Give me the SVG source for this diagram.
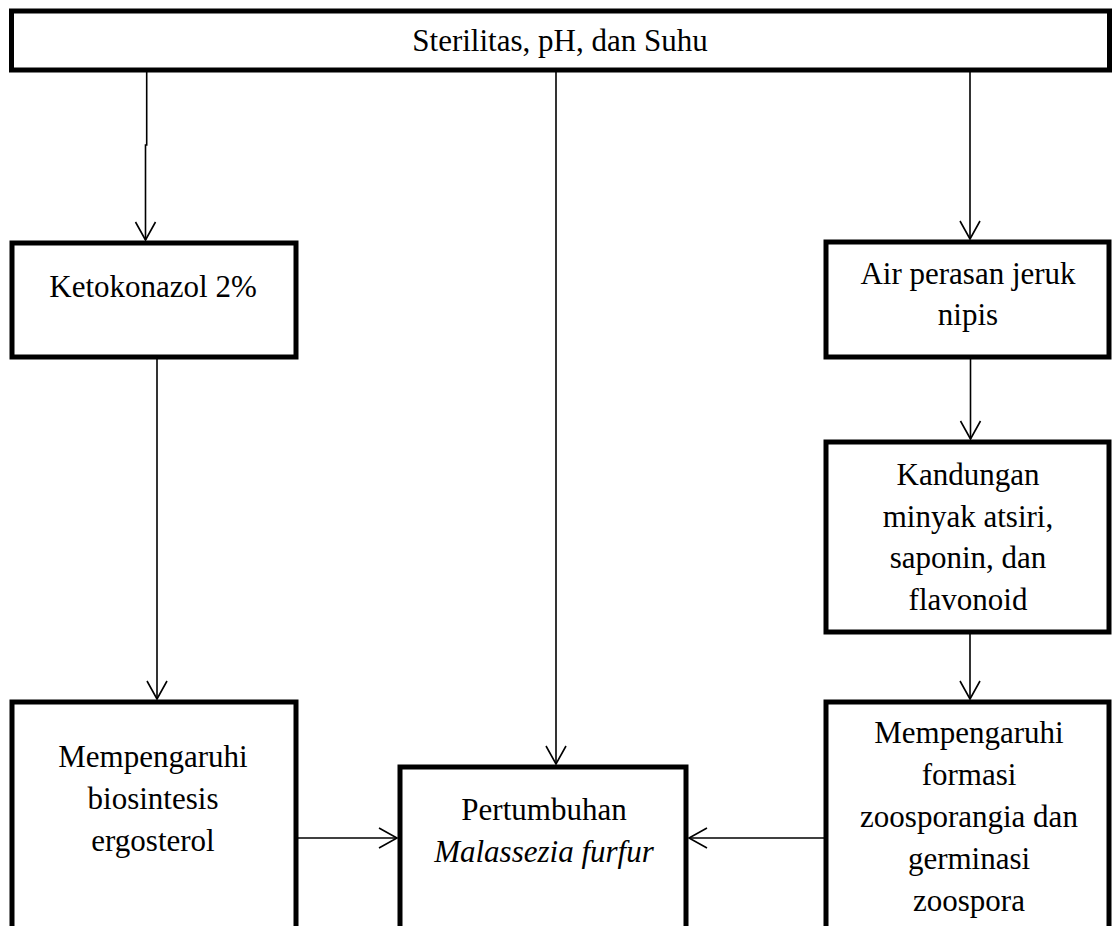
<svg xmlns="http://www.w3.org/2000/svg" width="1112" height="926" viewBox="0 0 1112 926">
<style>
.box{fill:#fff;stroke:#000;stroke-width:5}
.t{font-family:"Liberation Serif","Times New Roman",serif;font-size:31px;fill:#000;text-anchor:middle}
.c{fill:none;stroke:#000;stroke-width:1.6}
</style>
<defs>
<marker id="ah" markerUnits="userSpaceOnUse" markerWidth="24" markerHeight="24" viewBox="-20 -12 24 24" refX="0" refY="0" orient="auto">
<path d="M-18,-10 L0,0 L-18,10" fill="none" stroke="#000" stroke-width="1.6"/>
</marker>
</defs>
<rect width="1112" height="926" fill="#fff"/>
<g id="connectors">
<path class="c" d="M146.7,72 V145 H145.5 V240" marker-end="url(#ah)"/>
<path class="c" d="M556,72 V764" marker-end="url(#ah)"/>
<path class="c" d="M970,72 V239" marker-end="url(#ah)"/>
<path class="c" d="M157,359 V699" marker-end="url(#ah)"/>
<path class="c" d="M970.5,359 V439" marker-end="url(#ah)"/>
<path class="c" d="M970,634 V699" marker-end="url(#ah)"/>
<path class="c" d="M298,838 H397" marker-end="url(#ah)"/>
<path class="c" d="M824,838 H689" marker-end="url(#ah)"/>
</g>
<g id="n-top">
<rect class="box" x="11.5" y="11" width="1098" height="59"/>
<text class="t" x="560" y="51">Sterilitas, pH, dan Suhu</text>
</g>
<g id="n-keto">
<rect class="box" x="12" y="243" width="284" height="114"/>
<text class="t" x="153" y="297">Ketokonazol 2%</text>
</g>
<g id="n-air">
<rect class="box" x="826" y="242" width="283" height="115"/>
<text class="t" x="968" y="284">Air perasan jeruk</text>
<text class="t" x="968" y="325">nipis</text>
</g>
<g id="n-kandungan">
<rect class="box" x="826" y="442" width="283" height="190"/>
<text class="t" x="968" y="485">Kandungan</text>
<text class="t" x="968" y="527">minyak atsiri,</text>
<text class="t" x="968" y="568">saponin, dan</text>
<text class="t" x="968" y="610">flavonoid</text>
</g>
<g id="n-biosintesis">
<rect class="box" x="12" y="702" width="284" height="240"/>
<text class="t" x="153" y="767">Mempengaruhi</text>
<text class="t" x="153" y="809">biosintesis</text>
<text class="t" x="153" y="851">ergosterol</text>
</g>
<g id="n-pertumbuhan">
<rect class="box" x="400" y="767" width="286" height="175"/>
<text class="t" x="544" y="820">Pertumbuhan</text>
<text class="t" x="544" y="862" font-style="italic">Malassezia furfur</text>
</g>
<g id="n-formasi">
<rect class="box" x="826" y="702" width="283" height="240"/>
<text class="t" x="969" y="743">Mempengaruhi</text>
<text class="t" x="969" y="785">formasi</text>
<text class="t" x="969" y="827">zoosporangia dan</text>
<text class="t" x="969" y="869">germinasi</text>
<text class="t" x="969" y="911">zoospora</text>
</g>
</svg>
